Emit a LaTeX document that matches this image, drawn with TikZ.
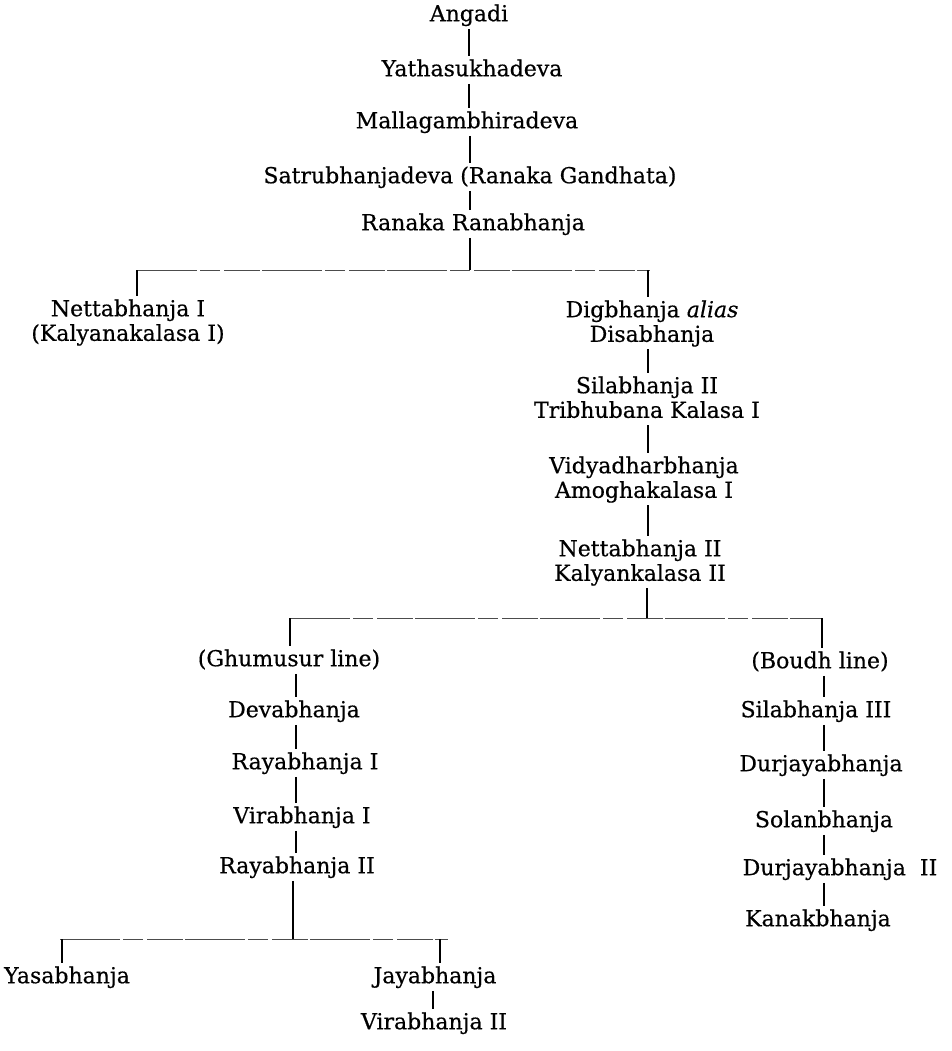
\documentclass[tikz,border=0pt]{standalone}
\usepackage{fontspec}
\setmainfont[FakeBold=0.5]{DejaVu Serif}
\newcommand\gstrut{\rule[-2.8pt]{0pt}{11.4pt}}
\begin{document}
\begin{tikzpicture}[x=0.5pt,y=-0.5pt,
  person/.style={anchor=north, inner sep=0pt, outer sep=0pt, align=center,
    font=\fontsize{11}{12.3}\selectfont},
  conn/.style={line width=0.8pt, shorten <=1pt, shorten >=1.5pt},
  bar/.style={line width=0.45pt, black!70, dash pattern=on 30pt off 1.5pt on 10pt off 2pt on 18pt off 1pt}]
\useasboundingbox (0,0) rectangle (952,1051);
% main line
\node[person] (a1) at (469,4)   {\gstrut Angadi};
\node[person] (a2) at (472,59)  {\gstrut Yathasukhadeva};
\node[person] (a3) at (467,111) {\gstrut Mallagambhiradeva};
\node[person] (a4) at (470,166) {\gstrut Satrubhanjadeva (Ranaka Gandhata)};
\node[person] (a5) at (473,213) {\gstrut Ranaka Ranabhanja};
% first split
\node[person] (b1) at (128,299) {\gstrut Nettabhanja I\\\gstrut (Kalyanakalasa I)};
\node[person] (c1) at (652,300) {\gstrut Digbhanja \textit{alias}\\\gstrut Disabhanja};
\node[person] (c2) at (647,376) {\gstrut Silabhanja II\\\gstrut Tribhubana Kalasa I};
\node[person] (c3) at (644,456) {\gstrut Vidyadharbhanja\\\gstrut Amoghakalasa I};
\node[person] (c4) at (640,539) {\gstrut Nettabhanja II\\\gstrut Kalyankalasa II};
% Ghumusur line
\node[person] (g0) at (289,649) {\gstrut (Ghumusur line)};
\node[person] (g1) at (294,700) {\gstrut Devabhanja};
\node[person] (g2) at (305,752) {\gstrut Rayabhanja I};
\node[person] (g3) at (302,806) {\gstrut Virabhanja I};
\node[person] (g4) at (297,856) {\gstrut Rayabhanja II};
\node[person] (y1) at (67,966)  {\gstrut Yasabhanja};
\node[person] (j1) at (435,966) {\gstrut Jayabhanja};
\node[person] (j2) at (434,1012) {\gstrut Virabhanja II};
% Boudh line
\node[person] (d0) at (820,651) {\gstrut (Boudh line)};
\node[person] (d1) at (816,700) {\gstrut Silabhanja III};
\node[person] (d2) at (821,754) {\gstrut Durjayabhanja};
\node[person] (d3) at (824,810) {\gstrut Solanbhanja};
\node[person] (d4) at (840,858) {\gstrut Durjayabhanja~~II};
\node[person] (d5) at (818,909) {\gstrut Kanakbhanja};
% connector positions
\coordinate (xa) at (469,0);
\coordinate (xb) at (470,0);
\coordinate (m1) at (470,270);
\coordinate (l1) at (137,270);
\coordinate (r1) at (650,270);
\coordinate (r1s) at (648,270);
\coordinate (xc) at (648,0);
\coordinate (m2) at (647,618);
\coordinate (l2) at (290,618);
\coordinate (r2) at (823,618);
\coordinate (r2s) at (822,618);
\coordinate (xg) at (296,0);
\coordinate (m3) at (293,939);
\coordinate (l3) at (60,939);
\coordinate (l3s) at (62,939);
\coordinate (r3) at (448,939);
\coordinate (r3s) at (440,939);
\coordinate (xj) at (433,0);
\coordinate (xd) at (824,0);
% main connectors
\draw[conn] (a1.south -| xa) -- (a2.north -| xa);
\draw[conn] (a2.south -| xa) -- (a3.north -| xa);
\draw[conn] (a3.south -| xb) -- (a4.north -| xb);
\draw[conn] (a4.south -| xb) -- (a5.north -| xb);
\draw[conn, line width=1pt, shorten >=0pt] (a5.south -| m1) -- (m1);
\draw[bar] (l1) -- (r1);
\draw[conn, shorten <=0pt] (l1) -- (b1.north -| l1);
\draw[conn, shorten <=0pt] (r1s) -- (c1.north -| r1s);
\draw[conn] (c1.south -| xc) -- (c2.north -| xc);
\draw[conn] (c2.south -| xc) -- (c3.north -| xc);
\draw[conn] (c3.south -| xc) -- (c4.north -| xc);
\draw[conn, line width=1pt, shorten >=0pt] (c4.south -| m2) -- (m2);
\draw[bar] (l2) -- (r2);
\draw[conn, shorten <=0pt] (l2) -- (g0.north -| l2);
\draw[conn, shorten <=0pt] (r2s) -- (d0.north -| r2s);
% Ghumusur connectors
\draw[conn] (g0.south -| xg) -- (g1.north -| xg);
\draw[conn] (g1.south -| xg) -- (g2.north -| xg);
\draw[conn] (g2.south -| xg) -- (g3.north -| xg);
\draw[conn] (g3.south -| xg) -- (g4.north -| xg);
\draw[conn, line width=1pt, shorten >=0pt] (g4.south -| m3) -- (m3);
\draw[bar] (l3) -- (r3);
\draw[conn, shorten <=0pt] (l3s) -- (y1.north -| l3s);
\draw[conn, shorten <=0pt] (r3s) -- (j1.north -| r3s);
\draw[conn] (j1.south -| xj) -- (j2.north -| xj);
% Boudh connectors
\draw[conn] (d0.south -| xd) -- (d1.north -| xd);
\draw[conn] (d1.south -| xd) -- (d2.north -| xd);
\draw[conn] (d2.south -| xd) -- (d3.north -| xd);
\draw[conn] (d3.south -| xd) -- (d4.north -| xd);
\draw[conn] (d4.south -| xd) -- (d5.north -| xd);
\end{tikzpicture}
\end{document}
